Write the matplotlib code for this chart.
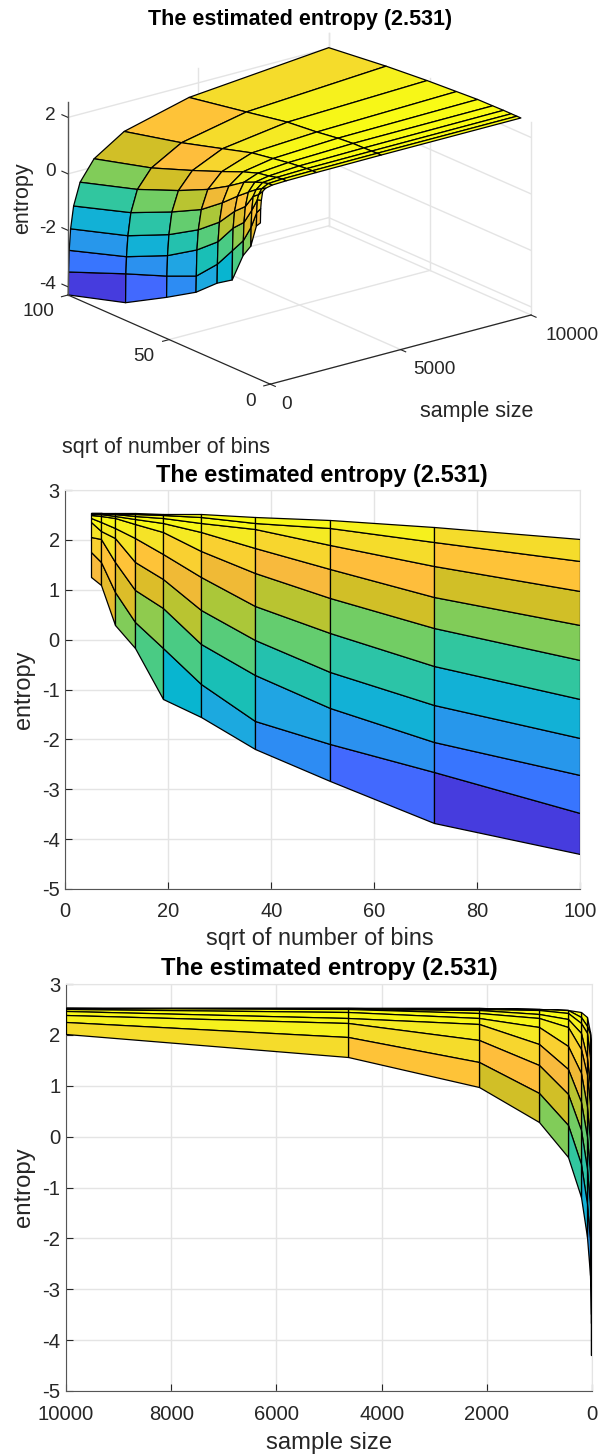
import matplotlib
matplotlib.use("Agg")
import matplotlib.pyplot as plt
from matplotlib.colors import ListedColormap, Normalize
from mpl_toolkits.mplot3d import proj3d
import numpy as np

plt.rcParams['font.family'] = ['Liberation Sans', 'DejaVu Sans']
plt.rcParams['axes.unicode_minus'] = False

W, H = 601, 1456

# sqrt of number of bins, one entropy list per sample size
bins = [5, 6.98, 9.73, 13.58, 18.94, 26.41, 36.84, 51.38, 71.66, 100]
sample_sizes = [10, 21.5, 46.4, 100, 215, 464, 1000, 2154, 4642, 10000]

h_10 = [1.26, 1.09, 0.29, -0.17, -1.20, -1.55, -2.20, -2.84, -3.67, -4.29]
h_21 = [1.76, 1.56, 0.96, 0.36, -0.16, -0.88, -1.63, -2.09, -2.65, -3.48]
h_46 = [2.05, 2.01, 1.55, 1.00, 0.63, -0.09, -0.71, -1.37, -2.05, -2.72]
h_100 = [2.36, 2.18, 2.03, 1.55, 1.21, 0.59, -0.01, -0.64, -1.32, -1.97]
h_215 = [2.44, 2.36, 2.24, 2.03, 1.72, 1.25, 0.68, 0.135, -0.53, -1.19]
h_464 = [2.49, 2.48, 2.43, 2.32, 2.15, 1.78, 1.33, 0.83, 0.23, -0.41]
h_1000 = [2.51, 2.51, 2.48, 2.41, 2.34, 2.15, 1.83, 1.41, 0.86, 0.29]
h_2154 = [2.52, 2.52, 2.51, 2.48, 2.43, 2.34, 2.21, 1.90, 1.47, 0.975]
h_4642 = [2.53, 2.53, 2.52, 2.51, 2.50, 2.45, 2.34, 2.23, 1.95, 1.57]
h_10000 = [2.53, 2.53, 2.53, 2.53, 2.52, 2.51, 2.46, 2.39, 2.26, 2.02]

title = "The estimated entropy (2.531)"
z_ticks = [-5, -4, -3, -2, -1, 0, 1, 2, 3]
bin_ticks = [0, 20, 40, 60, 80, 100]
size_ticks = [0, 2000, 4000, 6000, 8000, 10000]

parula = ListedColormap([
    (0.2422, 0.1504, 0.6603), (0.2504, 0.1650, 0.7076), (0.2578, 0.1818, 0.7511), (0.2647, 0.1978, 0.7952),
    (0.2706, 0.2147, 0.8364), (0.2751, 0.2342, 0.8710), (0.2783, 0.2559, 0.8991), (0.2803, 0.2782, 0.9221),
    (0.2813, 0.3006, 0.9414), (0.2810, 0.3228, 0.9579), (0.2795, 0.3447, 0.9717), (0.2760, 0.3667, 0.9829),
    (0.2699, 0.3892, 0.9906), (0.2602, 0.4123, 0.9952), (0.2440, 0.4358, 0.9988), (0.2206, 0.4603, 0.9973),
    (0.1963, 0.4847, 0.9892), (0.1834, 0.5074, 0.9798), (0.1786, 0.5289, 0.9682), (0.1764, 0.5499, 0.9520),
    (0.1687, 0.5703, 0.9359), (0.1540, 0.5902, 0.9218), (0.1460, 0.6091, 0.9079), (0.1380, 0.6276, 0.8973),
    (0.1248, 0.6459, 0.8883), (0.1113, 0.6635, 0.8763), (0.0952, 0.6798, 0.8598), (0.0689, 0.6948, 0.8394),
    (0.0297, 0.7082, 0.8163), (0.0036, 0.7203, 0.7917), (0.0067, 0.7312, 0.7660), (0.0433, 0.7411, 0.7394),
    (0.0964, 0.7500, 0.7120), (0.1408, 0.7584, 0.6842), (0.1717, 0.7670, 0.6554), (0.1938, 0.7758, 0.6251),
    (0.2161, 0.7843, 0.5923), (0.2470, 0.7918, 0.5567), (0.2906, 0.7973, 0.5188), (0.3406, 0.8008, 0.4789),
    (0.3909, 0.8029, 0.4354), (0.4456, 0.8024, 0.3909), (0.5044, 0.7993, 0.3480), (0.5616, 0.7942, 0.3045),
    (0.6174, 0.7876, 0.2612), (0.6720, 0.7793, 0.2227), (0.7242, 0.7698, 0.1910), (0.7738, 0.7598, 0.1646),
    (0.8203, 0.7498, 0.1535), (0.8634, 0.7406, 0.1596), (0.9035, 0.7330, 0.1774), (0.9393, 0.7288, 0.2100),
    (0.9728, 0.7312, 0.2394), (0.9956, 0.7434, 0.2371), (0.9961, 0.7652, 0.2199), (0.9893, 0.7892, 0.2049),
    (0.9782, 0.8138, 0.1919), (0.9678, 0.8385, 0.1807), (0.9619, 0.8634, 0.1670), (0.9592, 0.8901, 0.1520),
    (0.9626, 0.9179, 0.1355), (0.9649, 0.9465, 0.1150), (0.9700, 0.9700, 0.0900), (0.9769, 0.9839, 0.0805)])

DARK = '#262626'
GRID = '#e4e4e4'

entropy = np.array([h_10, h_21, h_46, h_100, h_215, h_464, h_1000, h_2154, h_4642, h_10000])
B, N = np.meshgrid(bins, sample_sizes)
norm = Normalize(entropy.min(), entropy.max())
# matlab colours a flat face from its first corner
faces = entropy[:-1, :-1]

fig = plt.figure(figsize=(W / 100, H / 100), dpi=100)


def rect(left, top, right, bottom):
    return [left / W, 1 - bottom / H, (right - left) / W, (bottom - top) / H]


def side_view(box, x_grid, xlim, xticks, xlabel, tick_fs, label_fs, title_y, xlabel_y, title_x, xlabel_x, xpad):
    ax = fig.add_axes(rect(*box))
    ax.pcolormesh(x_grid, entropy, faces, cmap=parula, norm=norm, edgecolors='k',
                  linewidth=0.9, antialiased=True, zorder=3)
    ax.set_xlim(xlim)
    ax.set_ylim(-5, 3)
    ax.set_xticks(xticks)
    ax.set_yticks(z_ticks)
    ax.grid(True, color=GRID, linewidth=1)
    ax.set_axisbelow(True)
    ax.tick_params(direction='in', length=5, width=0.8, color=DARK, labelcolor=DARK,
                   labelsize=tick_fs, pad=4)
    ax.tick_params(axis='x', pad=xpad)
    for side in ['top', 'right']:
        ax.spines[side].set_color(GRID)
    for side in ['left', 'bottom']:
        ax.spines[side].set_color('#555555')
    fig.text(xlabel_x / W, 1 - xlabel_y / H, xlabel, fontsize=label_fs, color=DARK, ha='center', va='center')
    fig.text(24 / W, 1 - (box[1] + box[3]) / 2 / H, 'entropy', fontsize=label_fs, color=DARK,
             rotation=90, ha='center', va='center')
    fig.text(title_x / W, 1 - title_y / H, title, fontsize=label_fs, fontweight='bold', ha='center', va='center')
    return ax


# top panel, 3d view
ax = fig.add_axes(rect(0, 0, 601, 601), projection='3d', proj_type='ortho', computed_zorder=False)
ax.patch.set_visible(False)
ax.set_axis_off()
ax.view_init(elev=20, azim=-127.8)
zlo, zhi = entropy.min(), entropy.max()
ax.set_xlim(0, 10000)
ax.set_ylim(0, 100)
ax.set_zlim(zlo, zhi)
ax.set_box_aspect((1, 1, 0.621))


def corner_px(x, y, z):
    u, v, _ = proj3d.proj_transform(x, y, z, ax.get_proj())
    return ax.transData.transform((u, v))


def tick_text(px, label, dx, dy, ha='center'):
    fig.text((px[0] + dx) / W, (px[1] + dy) / H, label, ha=ha, va='center', fontsize=13.7, color=DARK)


# fit the box onto the corners of the reference
fig.canvas.draw()
p0 = corner_px(0, 100, zlo)
p1 = corner_px(10000, 0, zlo)
S = 601 * (531 - 68) / (p1[0] - p0[0])
ax.set_position(rect(0, 0, S, S))
fig.canvas.draw()
p0 = corner_px(0, 100, zlo)
dx, dy = 68 - p0[0], (H - 295) - p0[1]
ax.set_position(rect(dx, -dy, dx + S, S - dy))
fig.canvas.draw()

for z in [-4, -2, 0, 2]:
    ax.plot([0, 10000], [100, 100], [z, z], color=GRID, lw=1, zorder=1)
    ax.plot([10000, 10000], [0, 100], [z, z], color=GRID, lw=1, zorder=1)
    ax.plot([0, 0], [100, 103], [z, z], color=DARK, lw=0.8, zorder=4)
    tick_text(corner_px(0, 100, z), str(z), -12, 2, ha='right')
for s in [5000, 10000]:
    ax.plot([s, s], [100, 100], [zlo, zhi], color=GRID, lw=1, zorder=1)
    ax.plot([s, s], [0, 100], [zlo, zlo], color=GRID, lw=1, zorder=1)
for b in [0, 50, 100]:
    ax.plot([10000, 10000], [b, b], [zlo, zhi], color=GRID, lw=1, zorder=1)
    ax.plot([0, 10000], [b, b], [zlo, zlo], color=GRID, lw=1, zorder=1)

ax.plot_surface(N, B, entropy, facecolors=parula(norm(entropy)), shade=False, rstride=1, cstride=1,
                edgecolor='k', linewidth=0.9, antialiased=True, zorder=2)

ax.plot([0, 10000], [0, 0], [zlo, zlo], color=DARK, lw=0.9, zorder=4)
ax.plot([0, 0], [0, 100], [zlo, zlo], color=DARK, lw=0.9, zorder=4)
ax.plot([0, 0], [100, 100], [zlo, zhi], color='#555555', lw=1, zorder=4)

for s, off in zip([0, 5000, 10000], [16, 34, 41]):
    ax.plot([s, s], [0, -2.5], [zlo, zlo], color=DARK, lw=0.8, zorder=4)
    tick_text(corner_px(s, 0, zlo), str(s), off, -20)
for b, off in zip([0, 50, 100], [-20, -25, -30]):
    ax.plot([0, -250], [b, b], [zlo, zlo], color=DARK, lw=0.8, zorder=4)
    tick_text(corner_px(0, b, zlo), str(b), off, -17)

fig.text(300 / W, 1 - 20 / H, title, fontsize=15.5, fontweight='bold', ha='center', va='center')
fig.text(23 / W, 1 - 198 / H, 'entropy', fontsize=15.5, color=DARK, rotation=90, ha='center', va='center')
fig.text(477 / W, 1 - 412 / H, 'sample size', fontsize=15.5, color=DARK, ha='center', va='center')
fig.text(166 / W, 1 - 448 / H, 'sqrt of number of bins', fontsize=15.5, color=DARK, ha='center', va='center')

# entropy against bins
side_view((65.3, 490, 580.3, 889), B, (0, 100), bin_ticks, 'sqrt of number of bins', 14.4, 16.9, 476, 938, 322, 320, 9)

# entropy against sample size, axis runs backwards
side_view((66, 984, 592, 1391), N, (10000, 0), size_ticks, 'sample size', 14.6, 17.2, 969, 1443, 329, 329, 10)

fig.savefig('out.png', dpi=100)
